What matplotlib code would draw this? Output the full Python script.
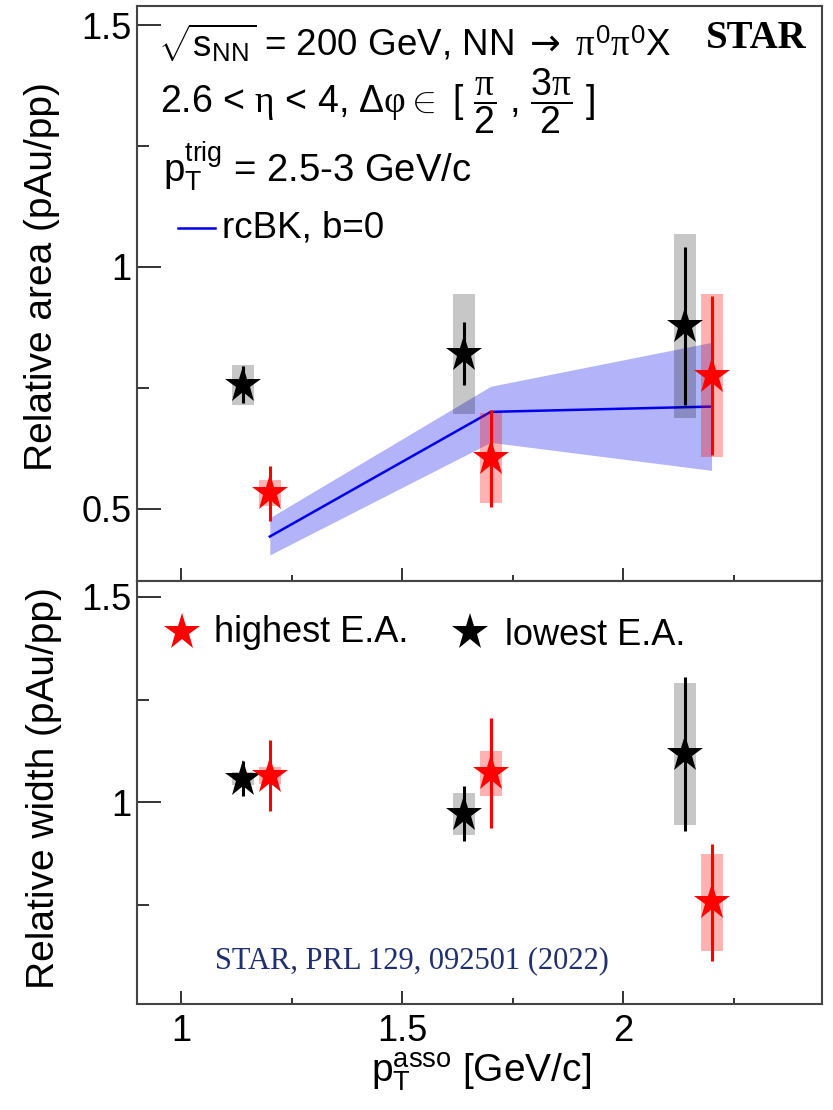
import matplotlib
matplotlib.use("Agg")
import matplotlib.pyplot as plt
from matplotlib.patches import Rectangle
from matplotlib.ticker import FixedLocator, FuncFormatter

plt.rcParams['font.family'] = ['Liberation Sans', 'DejaVu Sans']
plt.rcParams['mathtext.fontset'] = 'custom'
plt.rcParams['mathtext.rm'] = 'Liberation Sans'
plt.rcParams['mathtext.it'] = 'Liberation Serif'
plt.rcParams['mathtext.bf'] = 'Liberation Sans:bold'
plt.rcParams['mathtext.sf'] = 'Liberation Sans'
plt.rcParams['mathtext.tt'] = 'DejaVu Sans'

# ---- data -------------------------------------------------------------
# associated-particle pT of each bin (highest / lowest event activity)
pt_high = [1.2, 1.7, 2.2]
pt_low = [1.14, 1.64, 2.14]

# relative area (pAu/pp)
area_high = [0.532, 0.604, 0.775]
area_high_stat = [0.057, 0.100, 0.165]
area_high_sys = [0.027, 0.093, 0.169]
area_low = [0.756, 0.820, 0.878]
area_low_stat = [0.038, 0.065, 0.163]
area_low_sys = [0.041, 0.124, 0.190]

# relative width (pAu/pp)
width_high = [1.065, 1.071, 0.757]
width_high_stat = [0.086, 0.134, 0.142]
width_high_sys = [0.020, 0.055, 0.118]
width_low = [1.058, 0.972, 1.118]
width_low_stat = [0.042, 0.067, 0.187]
width_low_sys = [0.015, 0.052, 0.173]

# rcBK (b=0) calculation with its uncertainty band
rcbk_pt = [1.2, 1.7, 2.2]
rcbk_val = [0.442, 0.700, 0.711]
rcbk_lo = [0.404, 0.637, 0.579]
rcbk_hi = [0.481, 0.753, 0.844]

x_ticks = [1.0, 1.5, 2.0]
x_minor = [1.25, 1.75, 2.25]
area_ticks = [0.5, 1.0, 1.5]
area_minor = [0.75, 1.25]
width_ticks = [1.0, 1.5]
width_minor = [0.75, 1.25]

# ---- figure -----------------------------------------------------------
W, H = 833, 1110
fig = plt.figure(figsize=(W / 100, H / 100), dpi=100)


def fx(px):
    return px / W


def fy(py):
    return 1 - py / H


left, right = 137.3, 822.0
top1, mid, bot2 = 6.0, 581.0, 1004.0
ax1 = fig.add_axes([fx(left), fy(mid), fx(right - left), (mid - top1) / H])
ax2 = fig.add_axes([fx(left), fy(bot2), fx(right - left), (bot2 - mid) / H])

RED = '#ff0000'
BOX_W = 0.05
STAR_SIZE = 28
fmt = FuncFormatter(lambda v, p: '%g' % v)

for ax in (ax1, ax2):
    ax.set_xlim(0.9, 2.45)
    ax.xaxis.set_major_locator(FixedLocator(x_ticks))
    ax.xaxis.set_minor_locator(FixedLocator(x_minor))
    ax.xaxis.set_major_formatter(fmt)
    ax.yaxis.set_major_formatter(fmt)
    ax.tick_params(which='both', direction='in', top=False, right=False,
                   color='#333333', width=1.4)
    ax.tick_params(axis='y', which='major', length=17.5, pad=4, labelsize=26)
    ax.tick_params(axis='y', which='minor', length=8.5)
    ax.tick_params(axis='x', which='major', length=9.5, pad=7, labelsize=26)
    ax.tick_params(axis='x', which='minor', length=4.5)
    for s in ax.spines.values():
        s.set_color('#444444')
        s.set_linewidth(1.5)

ax1.set_ylim(0.35, 1.54)
ax1.yaxis.set_major_locator(FixedLocator(area_ticks))
ax1.yaxis.set_minor_locator(FixedLocator(area_minor))
ax1.tick_params(axis='x', labelbottom=False)

ax2.set_ylim(0.51, 1.538)
ax2.yaxis.set_major_locator(FixedLocator(width_ticks))
ax2.yaxis.set_minor_locator(FixedLocator(width_minor))


def draw_points(ax, xs, ys, stat, sys, color, box_alpha):
    for x, y, s in zip(xs, ys, sys):
        ax.add_patch(Rectangle((x - BOX_W / 2, y - s), BOX_W, 2 * s,
                               facecolor=color, alpha=box_alpha,
                               edgecolor='none', zorder=3))
    ax.errorbar(xs, ys, yerr=stat, fmt='none', ecolor=color,
                elinewidth=2.2, capsize=0, zorder=4)
    ax.plot(xs, ys, linestyle='none', marker='*', markersize=STAR_SIZE,
            color=color, markeredgewidth=0, zorder=5)


# top panel: relative area
ax1.fill_between(rcbk_pt, rcbk_lo, rcbk_hi, color='#b3b3fa', lw=0, zorder=2)
ax1.plot(rcbk_pt, rcbk_val, color='#0000ee', lw=1.8, zorder=2.5)
draw_points(ax1, pt_low, area_low, area_low_stat, area_low_sys, 'black', 0.22)
draw_points(ax1, pt_high, area_high, area_high_stat, area_high_sys, RED, 0.3)

# bottom panel: relative width
draw_points(ax2, pt_low, width_low, width_low_stat, width_low_sys, 'black', 0.22)
draw_points(ax2, pt_high, width_high, width_high_stat, width_high_sys, RED, 0.3)

# axis titles
ax1.set_ylabel('Relative area (pAu/pp)', fontsize=28)
ax1.yaxis.set_label_coords((60 - left) / (right - left), (mid - 277) / (mid - top1))
ax2.set_ylabel('Relative width (pAu/pp)', fontsize=28)
ax2.yaxis.set_label_coords((62 - left) / (right - left), (bot2 - 788) / (bot2 - mid))
fig.text(fx(481), fy(1082), r'$\mathrm{p}_{\mathrm{T}}^{\mathrm{asso}}$ [GeV/c]',
         fontsize=28, ha='center', va='baseline')

# header text in the top panel
fig.text(fx(158), fy(57),
         r'$\sqrt{\mathrm{s}_{\mathrm{NN}}}$ = 200 GeV, NN $\,\mathtt{→}\,$ $\pi^{0}\pi^{0}$X',
         fontsize=26.5, ha='left', va='baseline')
fig.text(fx(806), fy(48), 'STAR', fontsize=28, fontweight='bold',
         family='Liberation Serif', ha='right', va='baseline')
fig.text(fx(160), fy(113),
         r'2.6 < $\eta$ < 4, $\Delta\varphi\in$ [ $\dfrac{\pi}{2}$ , $\dfrac{3\pi}{2}$ ]',
         fontsize=27, ha='left', va='baseline')
fig.text(fx(163), fy(182), r'$\mathrm{p}_{\mathrm{T}}^{\mathrm{trig}}$ = 2.5-3 GeV/c',
         fontsize=27.5, ha='left', va='baseline')
fig.lines.append(plt.Line2D([fx(178), fx(215)], [fy(228), fy(228)],
                            color='#0000ee', lw=1.8, transform=fig.transFigure))
fig.text(fx(222), fy(238), 'rcBK, b=0', fontsize=26.5, ha='left', va='baseline')

# legend for the event-activity classes
fig.lines.append(plt.Line2D([fx(182)], [fy(632)], marker='*', markersize=STAR_SIZE,
                            color=RED, markeredgewidth=0,
                            transform=fig.transFigure))
fig.text(fx(214), fy(642), 'highest E.A.', fontsize=26, ha='left', va='baseline')
fig.lines.append(plt.Line2D([fx(470)], [fy(632)], marker='*', markersize=STAR_SIZE,
                            color='black', markeredgewidth=0,
                            transform=fig.transFigure))
fig.text(fx(505), fy(645), 'lowest E.A.', fontsize=26, ha='left', va='baseline')

fig.text(fx(412), fy(968), 'STAR, PRL 129, 092501 (2022)', fontsize=22,
         family='Liberation Serif', color='#1f2f6f', ha='center', va='baseline')

fig.savefig('out.png', dpi=100)
